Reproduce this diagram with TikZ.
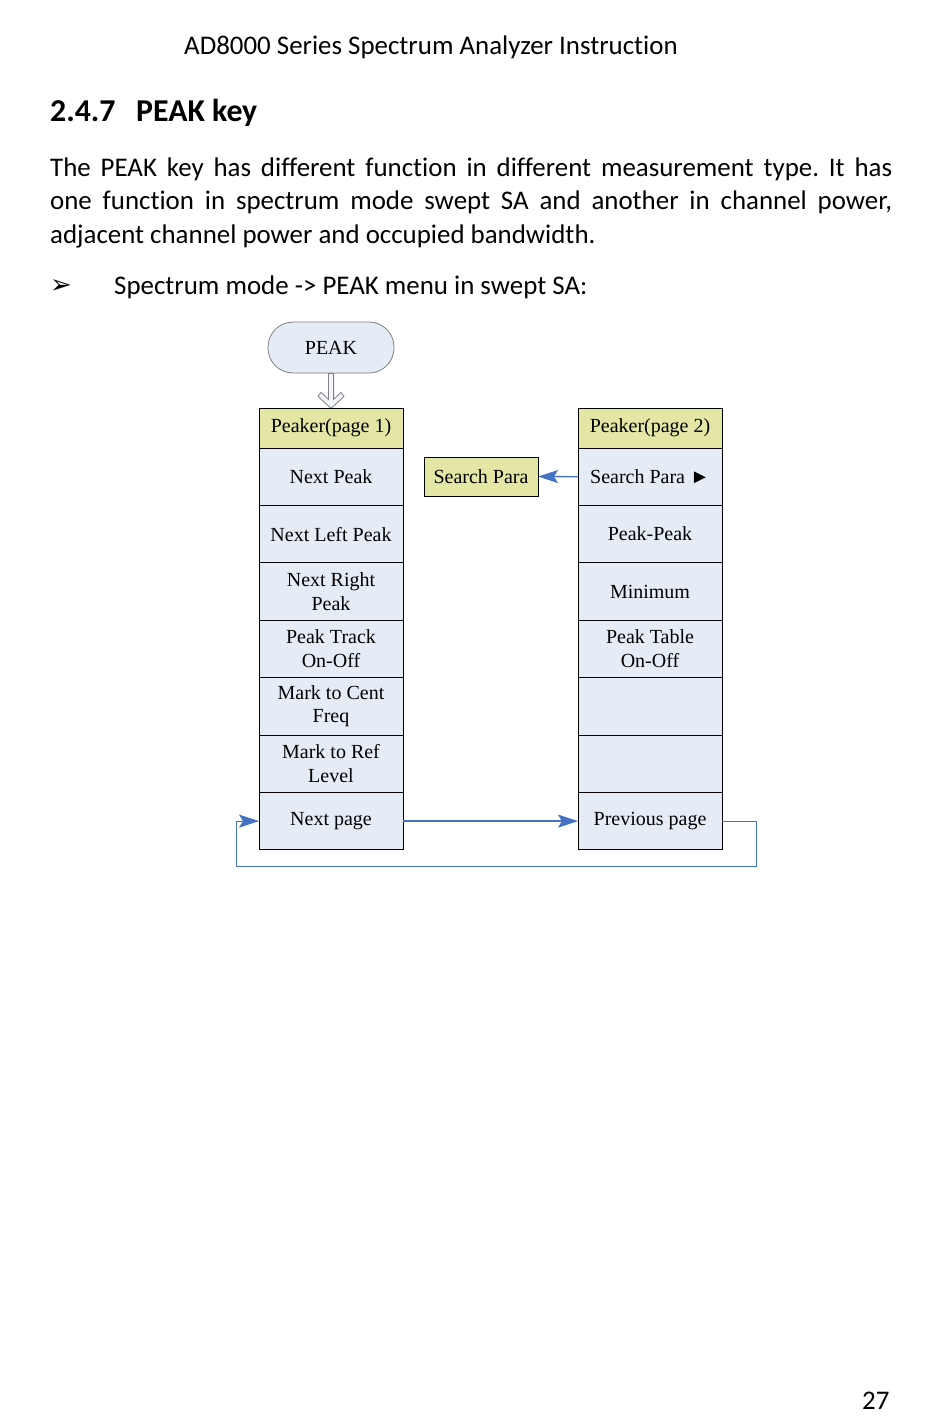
\documentclass[tikz,border=0pt]{standalone}
\usepackage{fontspec}
\setmainfont{Carlito}[Ligatures=NoCommon]
\newfontfamily\menufont{Liberation Serif}
\newfontfamily\dingfont{DejaVu Sans}
\usetikzlibrary{positioning,calc,arrows.meta}

\definecolor{menublue}{HTML}{E6ECF6}
\definecolor{menugreen}{HTML}{E3E6A4}
\definecolor{linkblue}{HTML}{4472C4}

\tikzset{
  menu/.style={draw, line width=0.9pt, fill=menublue, minimum width=144pt,
    minimum height=57.4pt, align=center, inner sep=2pt, outer sep=0pt,
    font=\menufont\fontsize{20}{23.5}\selectfont},
  menuhead/.style={menu, fill=menugreen, minimum height=40pt},
  link/.style={draw=linkblue, line width=1.3pt,
    -{Stealth[length=20pt,width=13pt,inset=4pt]}},
  bodyline/.style={anchor=base west, inner sep=0pt, font=\fontsize{26.9}{32}\selectfont},
}

\begin{document}
\frenchspacing
\begin{tikzpicture}[x=1pt,y=-1pt]
   \useasboundingbox (0,0) rectangle (950,1416);
   % page text
   \node[bodyline] (header) at (184,54) {AD8000 Series Spectrum Analyzer Instruction};
   \node[bodyline, font=\bfseries\fontsize{31.8}{38}\selectfont] (secnum) at (50,121) {2.4.7};
   \node[bodyline, font=\bfseries\fontsize{31.8}{38}\selectfont] (sectitle) at (136,121) {PEAK key};
   \node[bodyline] (line1) at (50,176) {\makebox[842pt][s]{The PEAK key has different function in different measurement type. It has}};
   \node[bodyline] (line2) at (50,209) {\makebox[842pt][s]{one function in spectrum mode swept SA and another in channel power,}};
   \node[bodyline] (line3) at (50,243) {adjacent channel power and occupied bandwidth.};
   \node[bodyline, font=\dingfont\fontsize{26}{30}\selectfont] (bullet) at (50,293) {➢};
   \node[bodyline] (item) at (114,294) {Spectrum mode -> PEAK menu in swept SA:};
   \node[bodyline] (pagenum) at (862,1409) {27};
   % key
   \node[draw=gray, line width=0.8pt, fill=menublue, rounded corners=25pt, minimum width=126pt,
     minimum height=51pt, font=\menufont\fontsize{20}{23}\selectfont] (peak) at (331,347.5) {PEAK};
   \draw[gray, line width=0.8pt, fill=menublue!50!white, shift={(peak.south)}]
     (-2.6,0) -- (-2.6,26) -- (-10,19) -- (-13,23) -- (0,35) -- (13,23) -- (10,19) -- (2.6,26) -- (2.6,0) -- cycle;
   % page 1
   \node[menuhead] (p1h) at (331,428) {Peaker(page 1)};
   \node[menu, below=0pt of p1h] (p1a) {Next Peak};
   \node[menu, below=0pt of p1a] (p1b) {Next Left Peak};
   \node[menu, below=0pt of p1b] (p1c) {Next Right\\Peak};
   \node[menu, below=0pt of p1c] (p1d) {Peak Track\\On-Off};
   \node[menu, below=0pt of p1d] (p1e) {Mark to Cent\\Freq};
   \node[menu, below=0pt of p1e] (p1f) {Mark to Ref\\Level};
   \node[menu, below=0pt of p1f] (p1g) {Next page};
   % page 2
   \node[menuhead] (p2h) at (650,428) {Peaker(page 2)};
   \node[menu, below=0pt of p2h] (p2a) {Search Para ►};
   \node[menu, below=0pt of p2a] (p2b) {Peak-Peak};
   \node[menu, below=0pt of p2b] (p2c) {Minimum};
   \node[menu, below=0pt of p2c] (p2d) {Peak Table\\On-Off};
   \node[menu, below=0pt of p2d] (p2e) {};
   \node[menu, below=0pt of p2e] (p2f) {};
   \node[menu, below=0pt of p2f] (p2g) {Previous page};
   \node[menuhead, minimum width=114pt, minimum height=39pt] (search) at (481,476.5) {Search Para};
   % links
   \draw[link] (p2a.west) -- (search.east);
   \draw[link] (p1g.east) -- (p2g.west);
   \draw[link, line width=1pt] (p2g.east) -- ++(34,0) -- ++(0,45) -| ($(p1g.west)+(-23,0)$) -- (p1g.west);
\end{tikzpicture}
\end{document}
